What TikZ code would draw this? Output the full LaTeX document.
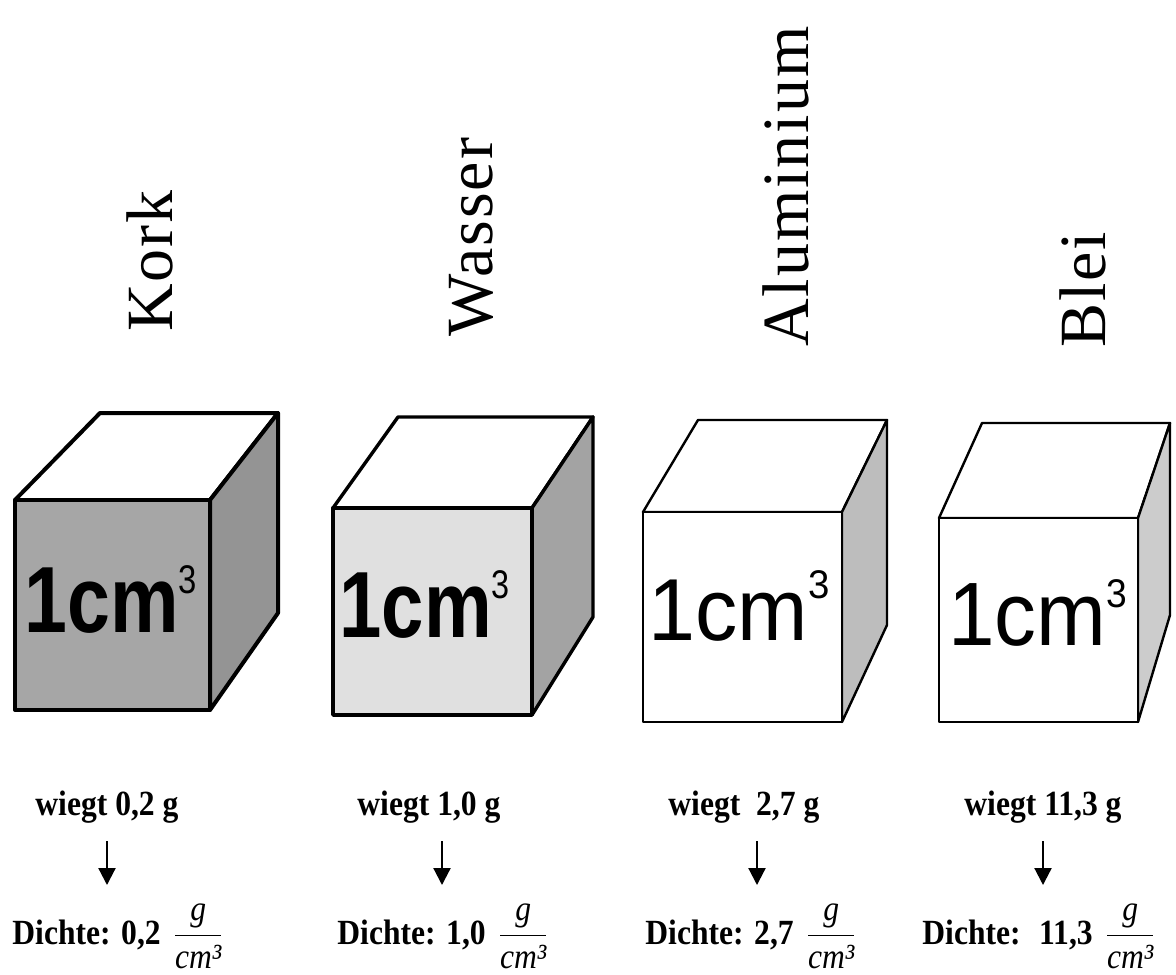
\documentclass[tikz,border=0pt]{standalone}
\usepackage{fix-cm}
\usepackage{graphicx}
\usepackage{fontspec}
\setmainfont{Liberation Serif}
\setsansfont{Liberation Sans}
\newfontfamily\labelfont[LetterSpace=3]{Liberation Serif}
\usetikzlibrary{arrows.meta}
\tikzset{
	kante/.style={draw=black,line join=round},
	stofflabel/.style={rotate=90,anchor=base west,inner sep=0pt,font=\labelfont\fontsize{33}{33}\selectfont},
	kubiktext/.style={anchor=base west,inner sep=0pt,font=\sffamily},
	wiegtstyle/.style={anchor=base west,inner sep=0pt,font=\fontsize{15.8}{18}\selectfont\bfseries},
	dichtestyle/.style={anchor=base west,inner sep=0pt,font=\fontsize{15.8}{18}\selectfont\bfseries},
	pfeil/.style={-{Triangle[width=8.5pt,length=8.5pt]},line width=1.1pt,shorten <=9pt}
}
% 1cm^3 auf der Vorderseite
\newcommand{\einheit}[4]{\scalebox{#1}[1]{\fontsize{#2}{#2}\selectfont#3\relax 1cm\raisebox{#4}{\fontsize{20}{20}\selectfont\mdseries 3}}}
\newcommand{\hoch}[1]{\scalebox{1}[1.12]{#1}}
\newcommand{\gcm}{\ensuremath{\displaystyle\frac{\textnormal{\itshape g}}{\textnormal{\itshape cm³}}}}

\begin{document}
\begin{tikzpicture}[x=0.5pt,y=-0.5pt]
		\useasboundingbox (0,0) rectangle (1176,974);
		% Kork
		\filldraw[kante,line width=2pt,fill=white] (100,413) -- (278,413) -- (210,500) -- (15,500) -- cycle;
		\filldraw[kante,line width=2pt,fill=black!42] (210,500) -- (278,413) -- (278,613) -- (210,710) -- cycle;
		\filldraw[kante,line width=2pt,fill=black!35] (15,500) rectangle (210,710);
		% Wasser
		\filldraw[kante,line width=1.7pt,fill=white] (398,417) -- (593,417) -- (532,508) -- (333,508) -- cycle;
		\filldraw[kante,line width=1.7pt,fill=black!36] (532,508) -- (593,417) -- (593,617) -- (532,715) -- cycle;
		\filldraw[kante,line width=1.7pt,fill=black!12] (333,508) rectangle (532,715);
		% Aluminium
		\filldraw[kante,line width=1.2pt,fill=white] (698,420) -- (887,420) -- (842,512) -- (643,512) -- cycle;
		\filldraw[kante,line width=1.2pt,fill=black!26] (842,512) -- (887,420) -- (887,625) -- (842,722) -- cycle;
		\filldraw[kante,line width=1.2pt,fill=white] (643,512) rectangle (842,722);
		% Blei
		\filldraw[kante,line width=1.2pt,fill=white] (982,423) -- (1170,423) -- (1138,518) -- (939,518) -- cycle;
		\filldraw[kante,line width=1.2pt,fill=black!20] (1138,518) -- (1170,423) -- (1170,615) -- (1138,722) -- cycle;
		\filldraw[kante,line width=1.2pt,fill=white] (939,518) rectangle (1138,722);

		\node[kubiktext] (vkork) at (24,632) {\einheit{0.82}{47}{\bfseries}{19.5pt}};
		\node[kubiktext] (vwasser) at (339,637) {\einheit{0.81}{47}{\bfseries}{19.3pt}};
		\node[kubiktext] (valu) at (648,640) {\einheit{0.96}{44}{}{21pt}};
		\node[kubiktext] (vblei) at (948,645) {\einheit{0.93}{45}{}{19pt}};

		\node[stofflabel] (kork) at (172,332) {Kork};
		\node[stofflabel] (wasser) at (492,337) {Wasser};
		\node[stofflabel] (alu) at (808,347) {Aluminium};
		\node[stofflabel] (blei) at (1105,348) {Blei};

		\node[wiegtstyle] (w1) at (35,815) {\hoch{wiegt 0,2 g}};
		\node[wiegtstyle] (w2) at (357,815) {\hoch{wiegt 1,0 g}};
		\node[wiegtstyle] (w3) at (668,815) {\hoch{wiegt~ 2,7 g}};
		\node[wiegtstyle] (w4) at (964,815) {\hoch{wiegt 11,3 g}};

		\node[dichtestyle] (d1) at (12,944) {\hoch{Dichte: 0,2\hspace{6pt}\gcm}};
		\node[dichtestyle] (d2) at (337,944) {\hoch{Dichte: 1,0\hspace{6pt}\gcm}};
		\node[dichtestyle] (d3) at (645,944) {\hoch{Dichte: 2,7\hspace{6pt}\gcm}};
		\node[dichtestyle] (d4) at (922,944) {\hoch{Dichte:~ 11,3\hspace{6pt}\gcm}};

		\coordinate (a1) at (107,885);
		\coordinate (a2) at (442,885);
		\coordinate (a3) at (757,885);
		\coordinate (a4) at (1043,885);
		\draw[pfeil] (w1.south -| a1) -- (a1);
		\draw[pfeil] (w2.south -| a2) -- (a2);
		\draw[pfeil] (w3.south -| a3) -- (a3);
		\draw[pfeil] (w4.south -| a4) -- (a4);
		\end{tikzpicture}
\end{document}
